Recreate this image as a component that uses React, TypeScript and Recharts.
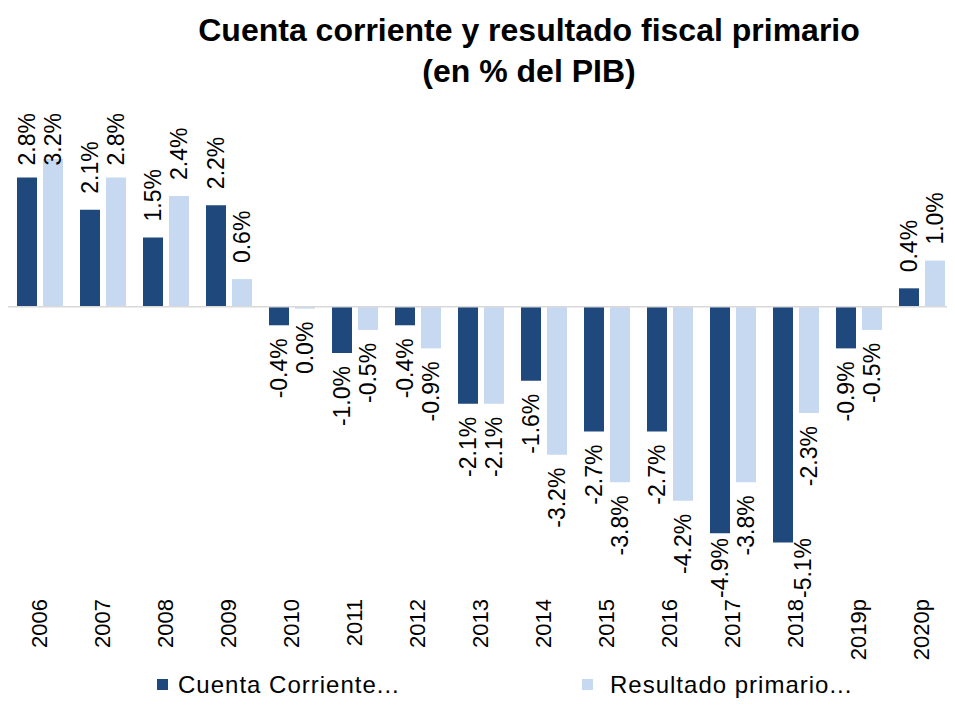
import { BarChart, Bar, XAxis, YAxis, ReferenceLine, LabelList } from "recharts";

const YEARS = ["2006", "2007", "2008", "2009", "2010", "2011", "2012", "2013", "2014", "2015", "2016", "2017", "2018", "2019p", "2020p"];
const CUENTA = [2.8, 2.1, 1.5, 2.2, -0.4, -1.0, -0.4, -2.1, -1.6, -2.7, -2.7, -4.9, -5.1, -0.9, 0.4];
const PRIMARIO = [3.2, 2.8, 2.4, 0.6, -0.04, -0.5, -0.9, -2.1, -3.2, -3.8, -4.2, -3.8, -2.3, -0.5, 1.0];

const SERIES_NAMES = ["Cuenta Corriente...", "Resultado primario..."];
const DARK = "#1F497D";
const LIGHT = "#C6D9F0";
const FONT = "'Liberation Sans', Arial, sans-serif";

const data = YEARS.map((year, i) => ({ year, cc: CUENTA[i], rp: PRIMARIO[i] }));

const LABEL_SIZE = 23;
const TOP_LIMIT = 105;
const BOTTOM_LIMIT = 590;
const CHAR_W: Record<string, number> = { "-": 0.333, ".": 0.278, "%": 0.889 };

function textLen(s: string) {
  let w = 0;
  for (const c of s) w += CHAR_W[c] ?? 0.556;
  return w * LABEL_SIZE;
}

function fmt(v: number) {
  const r = Math.round(v * 10) / 10;
  return (r === 0 ? "0.0" : r.toFixed(1)) + "%";
}

// data label rotated like the Excel original, kept inside the plot area
function BarLabel(props: any) {
  const x = Number(props.x), y = Number(props.y);
  const w = Number(props.width), h = Number(props.height);
  const v = Number(props.value);
  const top = Math.min(y, y + h);
  const bottom = Math.max(y, y + h);
  const s = fmt(v);
  const len = textLen(s);
  let cx = x + w / 2;
  let a: number;
  let anchor: "start" | "end";
  if (v >= 0) {
    a = Math.max(top - 16, TOP_LIMIT + len);
    anchor = "start";
  } else {
    a = bottom + 13;
    if (a + len > BOTTOM_LIMIT) a = BOTTOM_LIMIT - len;
    if (a < bottom) cx = x + w + 10;
    anchor = "end";
  }
  return (
    <text
      x={cx} y={a} dy="0.36em" textAnchor={anchor}
      transform={`rotate(-90, ${cx}, ${a})`}
      fontSize={LABEL_SIZE} fontFamily={FONT} fill="#000"
    >
      {s}
    </text>
  );
}

function YearTick(props: any) {
  const { x, y, payload } = props;
  return (
    <text
      x={x} y={y} dy="0.36em" textAnchor="end"
      transform={`rotate(-90, ${x}, ${y})`}
      fontSize={22} fontFamily={FONT} fill="#000"
    >
      {payload.value}
    </text>
  );
}

export default function App() {
  return (
    <div style={{ position: "relative", width: 939, height: 690, overflow: "hidden", fontFamily: FONT }}>
      <div
        style={{
          position: "absolute", top: 2, left: 0, width: 939, boxSizing: "border-box",
          paddingLeft: 103, textAlign: "center", fontSize: 32, fontWeight: "bold",
          lineHeight: "41px", color: "#000",
        }}
      >
        Cuenta corriente y resultado fiscal primario
        <br />
        (en % del PIB)
      </div>

      <div style={{ position: "absolute", top: 0, left: 0, width: 945, height: 690 }}>
        <BarChart
          width={945} height={690} data={data}
          margin={{ top: 114, right: 0, bottom: 0, left: 0 }}
          barSize={20} barGap={6}
        >
          <XAxis
            dataKey="year" height={114} interval={0}
            axisLine={false} tickLine={false} tickSize={0} tickMargin={15}
            tick={<YearTick />}
          />
          <YAxis hide type="number" domain={[-6, 4]} tickCount={6} />
          <ReferenceLine y={0} stroke="#D9D9D9" strokeWidth={1.5} />
          <Bar dataKey="cc" fill={DARK} isAnimationActive={false}>
            <LabelList dataKey="cc" content={<BarLabel />} />
          </Bar>
          <Bar dataKey="rp" fill={LIGHT} isAnimationActive={false}>
            <LabelList dataKey="rp" content={<BarLabel />} />
          </Bar>
        </BarChart>
      </div>

      <div style={{ position: "absolute", left: 149, top: 671, width: 11, height: 11, background: DARK }} />
      <div style={{ position: "absolute", left: 170, top: 665, fontSize: 24, lineHeight: "24px", letterSpacing: 1, color: "#000", whiteSpace: "nowrap" }}>
        {SERIES_NAMES[0]}
      </div>
      <div style={{ position: "absolute", left: 574, top: 671, width: 11, height: 11, background: LIGHT }} />
      <div style={{ position: "absolute", left: 602, top: 665, fontSize: 24, lineHeight: "24px", letterSpacing: 1, color: "#000", whiteSpace: "nowrap" }}>
        {SERIES_NAMES[1]}
      </div>
    </div>
  );
}
